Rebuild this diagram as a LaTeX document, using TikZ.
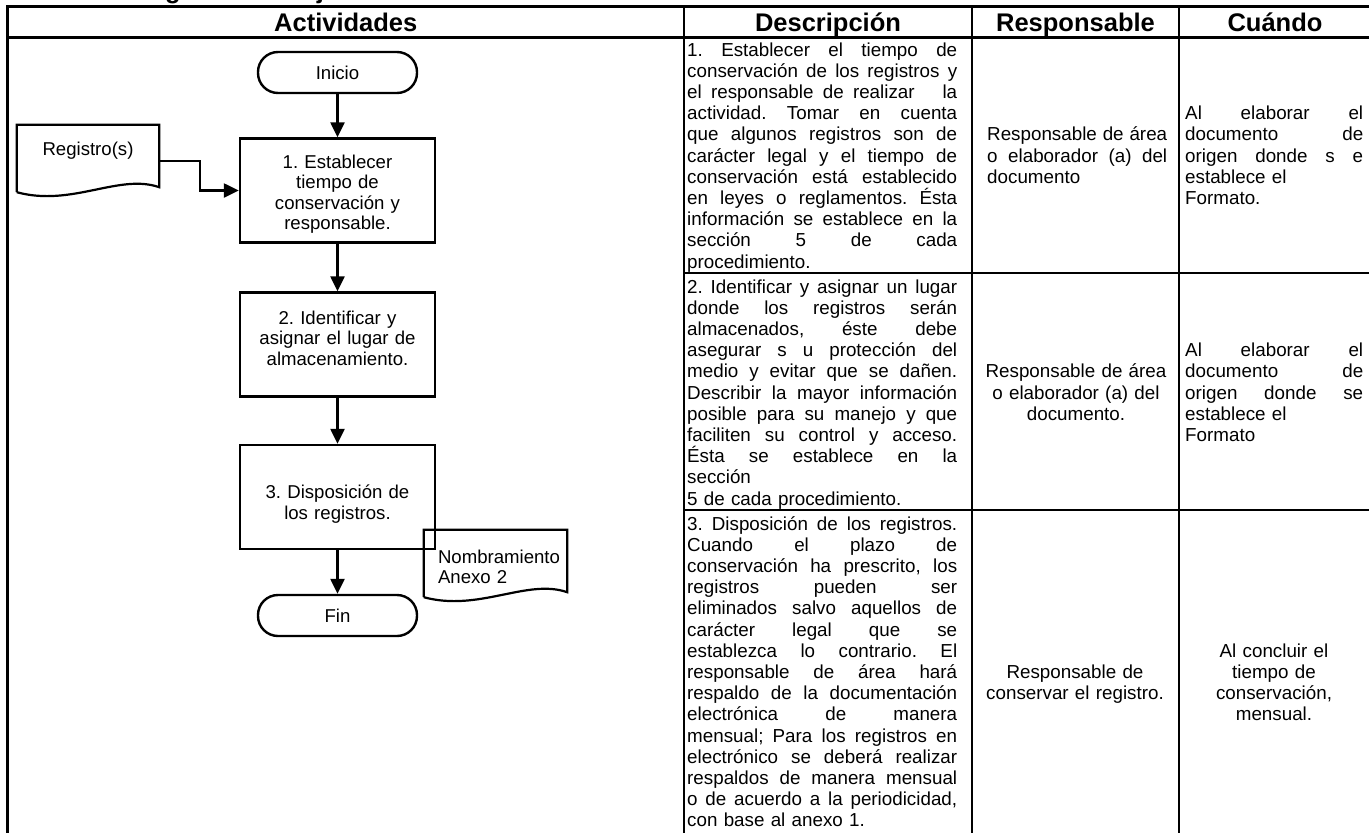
\documentclass[tikz,border=0pt]{standalone}
\usepackage{fontspec}
\setmainfont{Liberation Sans}
\usetikzlibrary{arrows.meta,calc,positioning}

\newlength{\anchocelda}
\newcommand{\cuerpo}{\fontsize{18.8}{21.2}\selectfont\frenchspacing}
\newcommand{\flujo}{\fontsize{18.6}{20.5}\selectfont\frenchspacing}
\newcommand{\encabezado}{\fontsize{25.5}{28}\selectfont\bfseries}
\newcommand{\jus}[1]{\hbox to\anchocelda{\spaceskip=\fontdimen2\font plus 1fil\relax #1}}
\newcommand{\linea}[1]{\hbox to\anchocelda{#1\hfil}}
\newcommand{\hoja}[1]{%
  \draw[line width=2.2pt] ($(#1.south west)+(0,5)$) -- (#1.north west) -- (#1.north east) -- (#1.south east)
    .. controls ($(#1.south east)+(-40,-14)$) and ($(#1.south west)+(55,20)$) .. ($(#1.south west)+(0,5)$);}

\tikzset{
  tabla/.style={line width=2.3pt},
  titulo/.style={anchor=base, font=\encabezado},
  caja/.style={draw, line width=2.4pt, minimum width=195pt, minimum height=104pt, text width=180pt, align=center, font=\flujo},
  terminal/.style={draw, line width=2.4pt, rounded corners=20pt, minimum width=159pt, minimum height=41pt, font=\flujo},
  documento/.style={minimum width=#1, minimum height=62pt, inner xsep=14pt, text width=#1-28pt, font=\flujo},
  flecha/.style={line width=2.4pt, -{Triangle[length=15pt,width=14pt]}},
  celda/.style={inner sep=0pt, text width=#1, font=\cuerpo\setlength{\anchocelda}{#1}},
}

\begin{document}
\begin{tikzpicture}[x=1pt,y=-1pt]
  \def\colA{7.5} \def\colB{684} \def\colC{972} \def\colD{1179} \def\colE{1371}
  \def\filaA{6.5} \def\filaB{37.5} \def\filaC{273} \def\filaD{510} \def\fondo{845}

  \useasboundingbox (0,0) rectangle (1369,833);

  % titulo (cortado por el borde)
  \node[anchor=base west, font=\encabezado] (titulo) at (122,-1.5) {Diagrama de flujo};

  % tabla
  \draw[tabla] (\colA,\fondo) -- (\colA,\filaA) -- (\colE,\filaA) -- (\colE,\fondo);
  \foreach \x in {\colB,\colC,\colD}
    \draw[tabla] (\x,\filaA) -- (\x,\fondo);
  \draw[tabla] (\colA,\filaB) -- (\colE,\filaB);
  \foreach \y in {\filaC,\filaD}
    \draw[tabla] (\colB,\y) -- (\colE,\y);

  % encabezados
  \node[titulo] (hAct)  at ({(\colA+\colB)/2},31) {Actividades};
  \node[titulo] (hDesc) at ({(\colB+\colC)/2},31) {Descripción};
  \node[titulo] (hResp) at ({(\colC+\colD)/2},31) {Responsable};
  \node[titulo] (hCuan) at ({(\colD+\colE)/2},31) {Cuándo};

  % diagrama
  \node[terminal] (inicio) at (337.5,72.5) {Inicio};
  \node[caja] (paso1) at (337.5,190.5) {\mbox{}\\[0.5pt]1. Establecer\\tiempo de\\conservación y\\responsable.};
  \node[caja] (paso2) at (337.5,344.5) {2. Identificar y\\asignar el lugar de\\almacenamiento.\\[-7.5pt]\mbox{}};
  \node[caja] (paso3) at (337.5,497) {\mbox{}\\[7.5pt]3. Disposición de\\los registros.};
  \node[terminal] (fin) at (337.5,615.5) {Fin};

  \node[documento=142pt, align=center] (registro) at (88,156) {Registro(s)\\[-6.5pt]\mbox{}};
  \hoja{registro}
  \node[documento=143pt, align=left] (nombramiento) at (495.5,561) {\mbox{}\\[5pt]Nombramiento\\Anexo 2};
  \hoja{nombramiento}

  \draw[flecha] (inicio) -- (paso1);
  \draw[flecha] (paso1) -- (paso2);
  \draw[flecha] (paso2) -- (paso3);
  \draw[flecha] (paso3) -- (fin);
  \draw[flecha] ([yshift=-5pt]registro.east) -- ++(41,0) |- (paso1.west);

  % descripcion
  \node[celda=270pt, anchor=base west, align=left] (desc1) at (687,56) {%
    \jus{1. Establecer el tiempo de}
    \jus{conservación de los registros y}
    \jus{el responsable de realizar \ \ la}
    \jus{actividad. Tomar en cuenta}
    \jus{que algunos registros son de}
    \jus{carácter legal y el tiempo de}
    \jus{conservación está establecido}
    \jus{en leyes o reglamentos. Ésta}
    \jus{información se establece en la}
    \jus{sección 5 de cada}
    \linea{procedimiento.}};
  \node[celda=270pt, anchor=base west, align=left] (desc2) at (687,293) {%
    \jus{2. Identificar y asignar un lugar}
    \jus{donde los registros serán}
    \jus{almacenados, éste debe}
    \jus{asegurar s u protección del}
    \jus{medio y evitar que se dañen.}
    \jus{Describir la mayor información}
    \jus{posible para su manejo y que}
    \jus{faciliten su control y acceso.}
    \jus{Ésta se establece en la}
    \linea{sección}
    \linea{5 de cada procedimiento.}};
  \node[celda=270pt, anchor=base west, align=left] (desc3) at (687,530) {%
    \jus{3. Disposición de los registros.}
    \jus{Cuando el plazo de}
    \jus{conservación ha prescrito, los}
    \jus{registros pueden ser}
    \jus{eliminados salvo aquellos de}
    \jus{carácter legal que se}
    \jus{establezca lo contrario. El}
    \jus{responsable de área hará}
    \jus{respaldo de la documentación}
    \jus{electrónica de manera}
    \jus{mensual; Para los registros en}
    \jus{electrónico se deberá realizar}
    \jus{respaldos de manera mensual}
    \jus{o de acuerdo a la periodicidad,}
    \linea{con base al anexo 1.}};

  % responsable
  \node[celda=180pt, anchor=base west, align=left] (resp1) at (987,140.8) {%
    \jus{Responsable de área}
    \jus{o elaborador (a) del}
    \linea{documento}};
  \node[celda=192pt, anchor=base, align=center] (resp2) at (1076,377.8) {%
    Responsable de área\\o elaborador (a) del\\documento.};
  \node[celda=192pt, anchor=base, align=center] (resp3) at (1075,678.4) {%
    Responsable de\\conservar el registro.};

  % cuando
  \node[celda=178pt, anchor=base west, align=left] (cuan1) at (1185,119.6) {%
    \jus{Al elaborar el}
    \jus{documento de}
    \jus{origen donde s e}
    \linea{establece el}
    \linea{Formato.}};
  \node[celda=178pt, anchor=base west, align=left] (cuan2) at (1185,356.6) {%
    \jus{Al elaborar el}
    \jus{documento de}
    \jus{origen donde se}
    \linea{establece el}
    \linea{Formato}};
  \node[celda=186pt, anchor=base, align=center] (cuan3) at (1274,657.2) {%
    Al concluir el\\tiempo de\\conservación,\\mensual.};
\end{tikzpicture}
\end{document}
